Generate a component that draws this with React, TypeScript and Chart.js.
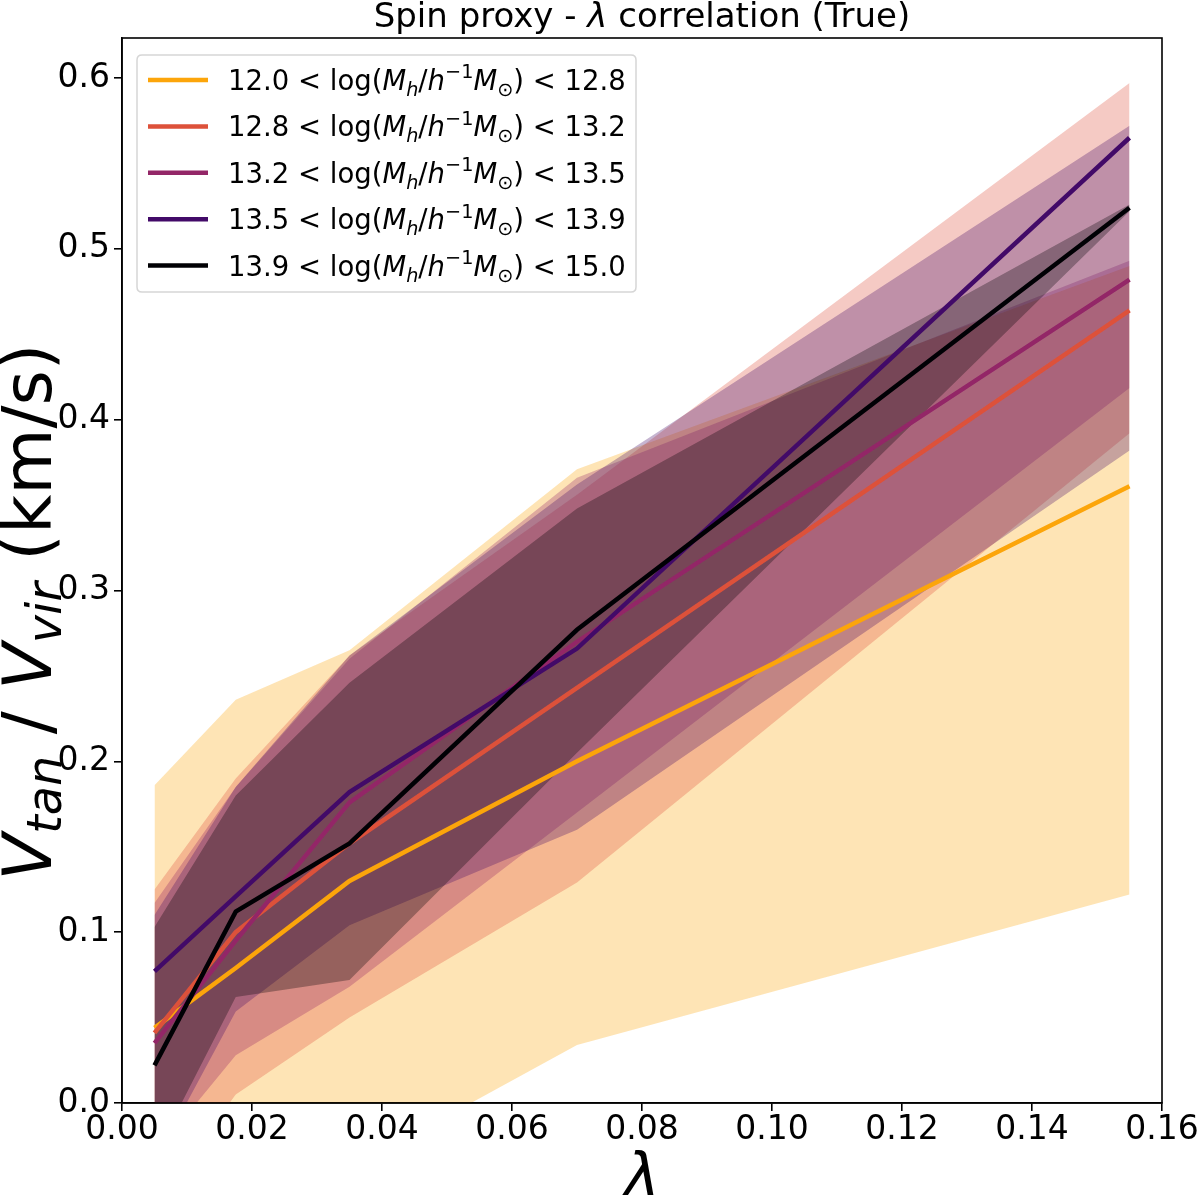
import React, { useEffect, useRef } from 'react';
import { Chart, registerables } from 'chart.js';

Chart.register(...registerables);

// ---------------- data ----------------
const lambdaBins = [0.005, 0.0175, 0.035, 0.07, 0.155];

const massLow = ['12.0', '12.8', '13.2', '13.5', '13.9'];
const massHigh = ['12.8', '13.2', '13.5', '13.9', '15.0'];

// medians
const median1 = [0.044, 0.079, 0.130, 0.200, 0.361];
const median2 = [0.041, 0.100, 0.152, 0.243, 0.464];
const median3 = [0.035, 0.095, 0.176, 0.270, 0.482];
const median4 = [0.077, 0.121, 0.182, 0.266, 0.565];
const median5 = [0.022, 0.112, 0.152, 0.277, 0.524];

// upper bounds of the scatter bands
const upper1 = [0.186, 0.236, 0.265, 0.371, 0.490];
const upper2 = [0.125, 0.190, 0.262, 0.356, 0.597];
const upper3 = [0.117, 0.185, 0.260, 0.366, 0.493];
const upper4 = [0.110, 0.185, 0.262, 0.362, 0.572];
const upper5 = [0.103, 0.180, 0.246, 0.348, 0.526];

// lower bounds of the scatter bands
const lower1 = [-0.120, -0.090, -0.039, 0.034, 0.122];
const lower2 = [-0.060, 0.005, 0.050, 0.129, 0.392];
const lower3 = [-0.030, 0.028, 0.068, 0.170, 0.4185];
const lower4 = [-0.035, 0.0535, 0.104, 0.160, 0.382];
const lower5 = [-0.031, 0.062, 0.072, 0.205, 0.522];

const xTicks = [0, 0.02, 0.04, 0.06, 0.08, 0.1, 0.12, 0.14, 0.16];
const yTicks = [0, 0.1, 0.2, 0.3, 0.4, 0.5, 0.6];

const lineColors = ['#fca50a', '#dd513a', '#932667', '#420a68', '#000004'];
const bandColors = [
  'rgba(252,165,10,0.3)',
  'rgba(221,81,58,0.3)',
  'rgba(147,38,103,0.3)',
  'rgba(66,10,104,0.3)',
  'rgba(0,0,4,0.3)',
];

const medians = [median1, median2, median3, median4, median5];
const uppers = [upper1, upper2, upper3, upper4, upper5];
const lowers = [lower1, lower2, lower3, lower4, lower5];

const FONT = '"DejaVu Sans", "Noto Sans", sans-serif';

type Seg = { t: string; it?: boolean; sub?: boolean; sup?: boolean };

function drawRich(ctx: CanvasRenderingContext2D, segs: Seg[], x: number, y: number, size: number, align: 'left' | 'center', subShift = 0.22) {
  const parts = segs.map((s) => {
    const fs = s.sub || s.sup ? size * 0.7 : size;
    const font = `${s.it ? 'italic ' : ''}${fs}px ${FONT}`;
    ctx.font = font;
    return { ...s, font, w: ctx.measureText(s.t).width };
  });
  const total = parts.reduce((a, p) => a + p.w, 0);
  let cx = align === 'center' ? x - total / 2 : x;
  ctx.textAlign = 'left';
  ctx.textBaseline = 'alphabetic';
  for (const p of parts) {
    ctx.font = p.font;
    const dy = p.sub ? size * subShift : p.sup ? -size * 0.42 : 0;
    ctx.fillText(p.t, cx, y + dy);
    cx += p.w;
  }
  return total;
}

function legendSegs(i: number): Seg[] {
  return [
    { t: massLow[i] + ' < log(' },
    { t: 'M', it: true },
    { t: 'h', it: true, sub: true },
    { t: '/' },
    { t: 'h', it: true },
    { t: '\u22121', sup: true },
    { t: 'M', it: true },
    { t: '\u2299', sub: true },
    { t: ') < ' + massHigh[i] },
  ];
}

const decorPlugin = {
  id: 'decor',
  afterDraw(chart: any) {
    const ctx: CanvasRenderingContext2D = chart.ctx;
    const a = chart.chartArea;
    ctx.save();
    // frame
    ctx.strokeStyle = '#000';
    ctx.lineWidth = 1.6;
    ctx.strokeRect(a.left, a.top, a.right - a.left, a.bottom - a.top);

    ctx.fillStyle = '#000';
    // title
    drawRich(
      ctx,
      [{ t: 'Spin proxy - ' }, { t: '\u03bb', it: true }, { t: ' correlation (True)' }],
      (a.left + a.right) / 2,
      27,
      34,
      'center'
    );
    // x label
    drawRich(ctx, [{ t: '\u03bb', it: true }], (a.left + a.right) / 2, 1196, 60, 'center');
    // y label
    ctx.save();
    ctx.translate(51, 612);
    ctx.rotate(-Math.PI / 2);
    drawRich(
      ctx,
      [
        { t: 'V', it: true },
        { t: 'tan', it: true, sub: true },
        { t: ' / ' },
        { t: 'V', it: true },
        { t: 'vir', it: true, sub: true },
        { t: ' (km/s)' },
      ],
      0,
      0,
      68,
      'center',
      0.15
    );
    ctx.restore();

    // legend
    const lx = 137, ly = 55, lw = 499, lh = 237;
    ctx.beginPath();
    const r = 5;
    ctx.moveTo(lx + r, ly);
    ctx.lineTo(lx + lw - r, ly);
    ctx.quadraticCurveTo(lx + lw, ly, lx + lw, ly + r);
    ctx.lineTo(lx + lw, ly + lh - r);
    ctx.quadraticCurveTo(lx + lw, ly + lh, lx + lw - r, ly + lh);
    ctx.lineTo(lx + r, ly + lh);
    ctx.quadraticCurveTo(lx, ly + lh, lx, ly + lh - r);
    ctx.lineTo(lx, ly + r);
    ctx.quadraticCurveTo(lx, ly, lx + r, ly);
    ctx.closePath();
    ctx.fillStyle = 'rgba(255,255,255,0.8)';
    ctx.fill();
    ctx.strokeStyle = '#d6d6d6';
    ctx.lineWidth = 1.5;
    ctx.stroke();

    for (let i = 0; i < 5; i++) {
      const cy = 80 + i * 46.4;
      ctx.strokeStyle = lineColors[i];
      ctx.lineWidth = 4.5;
      ctx.beginPath();
      ctx.moveTo(148, cy);
      ctx.lineTo(208, cy);
      ctx.stroke();
      ctx.fillStyle = '#000';
      drawRich(ctx, legendSegs(i), 228, cy + 10, 27.5, 'left');
    }
    ctx.restore();
  },
};

export default function App() {
  const ref = useRef<HTMLCanvasElement | null>(null);

  useEffect(() => {
    if (!ref.current) return;
    const datasets: any[] = [];
    // bands: upper filled to the following lower dataset
    for (let i = 0; i < 5; i++) {
      datasets.push({
        label: 'upper' + i,
        data: lambdaBins.map((x, k) => ({ x, y: uppers[i][k] })),
        borderWidth: 0,
        borderColor: 'rgba(0,0,0,0)',
        backgroundColor: bandColors[i],
        pointRadius: 0,
        fill: '+1',
        order: 20 - 2 * i,
      });
      datasets.push({
        label: 'lower' + i,
        data: lambdaBins.map((x, k) => ({ x, y: lowers[i][k] })),
        borderWidth: 0,
        borderColor: 'rgba(0,0,0,0)',
        pointRadius: 0,
        fill: false,
        order: 19 - 2 * i,
      });
    }
    for (let i = 0; i < 5; i++) {
      datasets.push({
        label: 'median' + i,
        data: lambdaBins.map((x, k) => ({ x, y: medians[i][k] })),
        borderWidth: 4.5,
        borderColor: lineColors[i],
        pointRadius: 0,
        fill: false,
        order: 4 - i,
      });
    }

    const tickFont = { family: FONT, size: 33 };
    const chart = new Chart(ref.current, {
      type: 'line',
      data: { datasets },
      plugins: [decorPlugin],
      options: {
        animation: false,
        responsive: true,
        maintainAspectRatio: false,
        devicePixelRatio: 1,
        layout: { padding: { top: 38, right: 38, left: 0, bottom: 0 } },
        plugins: {
          legend: { display: false },
          tooltip: { enabled: false },
          filler: { drawTime: 'beforeDatasetsDraw' },
        },
        scales: {
          x: {
            type: 'linear',
            min: 0,
            max: 0.16,
            afterFit: (s: any) => {
              s.height = 92;
            },
            afterBuildTicks: (s: any) => {
              s.ticks = xTicks.map((v) => ({ value: v }));
            },
            ticks: {
              font: tickFont,
              color: '#000',
              padding: 0,
              maxRotation: 0,
              autoSkip: false,
              callback: (v: any) => Number(v).toFixed(2),
            },
            grid: { drawOnChartArea: false, drawTicks: true, tickLength: 8, color: '#000', lineWidth: 1.6 },
            border: { display: true, color: '#000', width: 1.6 },
          },
          y: {
            type: 'linear',
            min: 0,
            max: 0.6234,
            afterFit: (s: any) => {
              s.width = 122;
            },
            afterBuildTicks: (s: any) => {
              s.ticks = yTicks.map((v) => ({ value: v }));
            },
            ticks: {
              font: tickFont,
              color: '#000',
              padding: 4,
              autoSkip: false,
              callback: (v: any) => Number(v).toFixed(1),
            },
            grid: { drawOnChartArea: false, drawTicks: true, tickLength: 8, color: '#000', lineWidth: 1.6 },
            border: { display: true, color: '#000', width: 1.6 },
          },
        },
      } as any,
    });
    return () => chart.destroy();
  }, []);

  return (
    <div style={{ position: 'absolute', left: 0, top: 0, width: 1200, height: 1195, background: '#fff' }}>
      <canvas ref={ref} />
    </div>
  );
}
